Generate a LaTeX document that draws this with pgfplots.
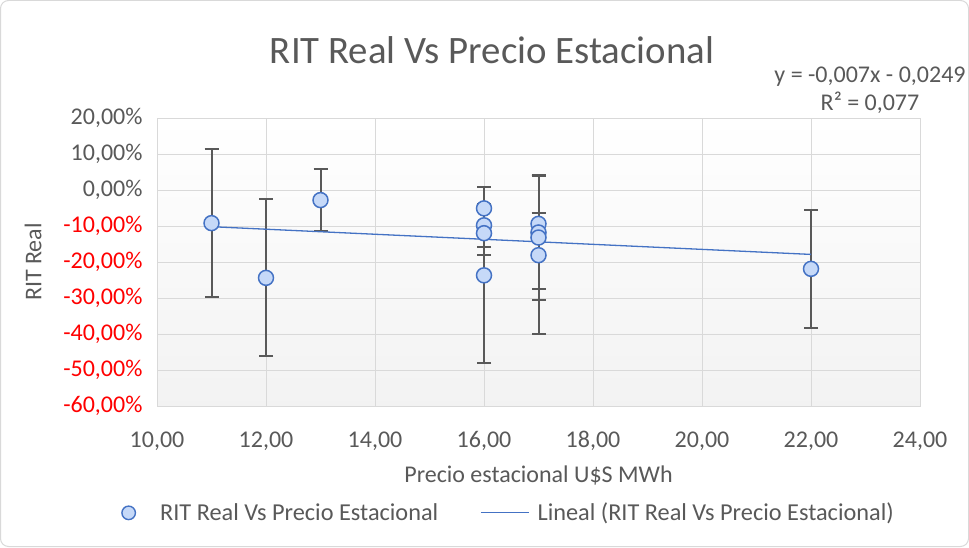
\documentclass[border=0pt]{standalone}
\usepackage{fontspec}
\setmainfont{Carlito}
\usepackage{pgfplots}
\usepackage{pgfplotstable}
\pgfplotsset{compat=1.18}
\definecolor{txt}{HTML}{595959}
\definecolor{grd}{HTML}{D9D9D9}
\definecolor{blu}{HTML}{4472C4}
\definecolor{mfill}{HTML}{C6D9F8}
\definecolor{errc}{HTML}{595959}
\pgfplotstableread{
x y e
11 -9.2 20.5
12 -24.4 21.8
13 -2.8 8.5
16 -5.1 5.9
16 -9.8 6.0
16 -12.0 6.0
16 -23.7 24.4
17 -9.4 2.9
17 -11.8 15.7
17 -13.2 17.4
17 -18.1 21.9
22 -21.9 16.3
}\datatable
\begin{document}
\begin{tikzpicture}[x=1pt,y=1pt]
\draw[grd, line width=1pt, rounded corners=8pt, fill=white] (0.5,0.5) rectangle (968.5,546.5);
\begin{axis}[
  at={(157pt,141pt)}, anchor=south west, scale only axis,
  width=763pt, height=288pt,
  xmin=10, xmax=24, ymin=-60, ymax=20,
  xtick={10,12,...,24}, ytick={-60,-50,...,20},
  yticklabels={{\textcolor{red}{-60,00\%}},{\textcolor{red}{-50,00\%}},{\textcolor{red}{-40,00\%}},{\textcolor{red}{-30,00\%}},{\textcolor{red}{-20,00\%}},{\textcolor{red}{-10,00\%}},{0,00\%},{10,00\%},{20,00\%}},
  /pgf/number format/fixed,
  /pgf/number format/fixed zerofill,
  /pgf/number format/precision=2,
  /pgf/number format/use comma,
  /pgf/number format/assume math mode=true,
  ticklabel style={text=txt, font=\fontsize{24}{28}\selectfont},
  yticklabel style={xshift=-11pt},
  xticklabel style={yshift=-22pt},
  tick style={draw=none},
  grid=major,
  major grid style={grd, line width=1pt},
  axis line style={grd, line width=1pt},
  axis background/.style={top color=white, bottom color=black!5},
  xlabel={Precio estacional U\$S MWh},
  ylabel={RIT Real},
  label style={text=txt, font=\fontsize{24}{28}\selectfont},
  xlabel style={at={(axis description cs:0.5,-0.243)}, anchor=center},
  ylabel style={at={(axis description cs:-0.1625,0.5)}, anchor=center},
  legend style={at={(axis description cs:0.460,-0.371)}, anchor=center, draw=none, fill=none,
    font=\fontsize{24.3}{28}\selectfont, text=txt,
    /tikz/every even column/.append style={column sep=40pt},
    /tikz/every odd column/.append style={column sep=6pt}},
  legend columns=2,
]
\addplot[only marks, mark=*, mark options={mark size=7.5pt, fill=mfill, draw=blu, line width=1.5pt},
  legend image code/.code={\path[draw=none, fill=none] (0pt,0pt) rectangle (32pt,0.1pt); \node[circle, draw=blu, fill=mfill, line width=1.4pt, inner sep=0pt, minimum size=13.5pt] at (8.5pt,0pt) {};},
  error bars/.cd, y dir=both, y explicit,
  error bar style={errc, line width=2pt},
  error mark options={rotate=90, mark size=7pt, line width=2pt, errc}]
  table[x=x, y=y, y error=e] {\datatable};
\addlegendentry{RIT Real Vs Precio Estacional}
\addplot[blu, line width=1.3pt, legend image code/.code={\draw[blu, line width=1.3pt] (0pt,0pt) -- (48pt,0pt);}]
  coordinates {(11,-10.19) (22,-17.89)};
\addlegendentry{Lineal (RIT Real Vs Precio Estacional)}
\end{axis}
\node[text=txt, font=\fontsize{38.8}{44}\selectfont] at (492,497) {RIT Real Vs Precio Estacional};
\node[text=txt, align=center, font=\fontsize{24}{28}\selectfont] at (870,457) {y = -0,007x - 0,0249\\R² = 0,077};
\end{tikzpicture}
\end{document}
